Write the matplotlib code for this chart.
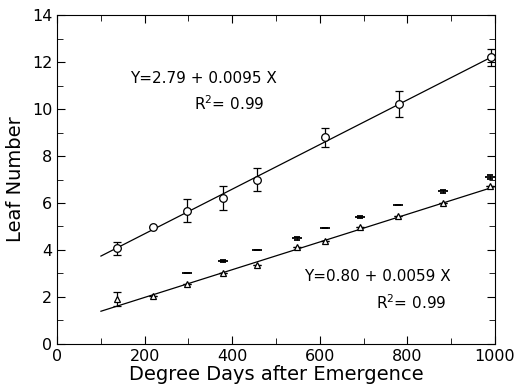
import matplotlib
matplotlib.use('Agg')
import matplotlib.pyplot as plt
from matplotlib.ticker import MultipleLocator

# leaf number, circles (upper series)
circ_x = [137, 218, 297, 379, 457, 611, 780, 990]
circ_y = [4.08, 4.98, 5.66, 6.22, 7.0, 8.8, 10.2, 12.2]
circ_err = [0.28, 0.0, 0.49, 0.5, 0.5, 0.4, 0.55, 0.38]

# leaf number, triangles (lower series)
tri_x = [137, 218, 297, 379, 457, 549, 611, 691, 778, 881, 989]
tri_y = [1.93, 2.04, 2.55, 3.02, 3.36, 4.13, 4.38, 4.98, 5.45, 6.0, 6.72]
tri_err = [0.3, 0.0, 0.0, 0.0, 0.0, 0.0, 0.0, 0.0, 0.0, 0.0, 0.0]

# short dash marks above the triangles
dash_x = [297, 379, 457, 549, 611, 691, 778, 881, 989]
dash_y = [3.02, 3.53, 3.98, 4.5, 4.93, 5.4, 5.91, 6.5, 7.12]
dash_err = [0.0, 0.06, 0.0, 0.07, 0.0, 0.06, 0.0, 0.06, 0.08]

# regression fits
fit1 = (2.79, 0.0095)
fit2 = (0.80, 0.0059)
fit_range = [100, 1000]

plt.rcParams['font.family'] = ['DejaVu Sans']
plt.rcParams['mathtext.default'] = 'regular'

fig = plt.figure(figsize=(5.15, 3.89), dpi=100)
ax = fig.add_axes([0.111, 0.116, 0.85, 0.845])

for a, b in [fit1, fit2]:
    ax.plot(fit_range, [a + b * x for x in fit_range], color='black', lw=0.9)

ax.errorbar(circ_x, circ_y, yerr=circ_err, fmt='o', mfc='white', mec='black',
            ms=5.5, mew=0.9, ecolor='black', elinewidth=0.9, capsize=3, zorder=3)
ax.errorbar(tri_x, tri_y, yerr=tri_err, fmt='^', mfc='white', mec='black',
            ms=5, mew=0.9, ecolor='black', elinewidth=0.9, capsize=3, zorder=3)
ax.errorbar(dash_x, dash_y, yerr=dash_err, fmt='_', color='black',
            ms=7, mew=1.3, ecolor='black', elinewidth=0.8, capsize=2.5, zorder=3)

ax.text(167, 11.1, 'Y=2.79 + 0.0095 X', fontsize=11)
ax.text(312, 9.95, 'R$^{2}$= 0.99', fontsize=11)
ax.text(563, 2.68, 'Y=0.80 + 0.0059 X', fontsize=11)
ax.text(728, 1.5, 'R$^{2}$= 0.99', fontsize=11)

ax.set_xlim(0, 1000)
ax.set_ylim(0, 14)
ax.xaxis.set_major_locator(MultipleLocator(200))
ax.xaxis.set_minor_locator(MultipleLocator(100))
ax.yaxis.set_major_locator(MultipleLocator(2))
ax.yaxis.set_minor_locator(MultipleLocator(1))
ax.tick_params(which='both', direction='in', top=True, right=True, labelsize=11.5)
ax.tick_params(which='major', length=6)
ax.tick_params(which='minor', length=4)

ax.set_xlabel('Degree Days after Emergence', fontsize=14, labelpad=1)
ax.set_ylabel('Leaf Number', fontsize=14, labelpad=5)

fig.savefig('out.png', dpi=100)
